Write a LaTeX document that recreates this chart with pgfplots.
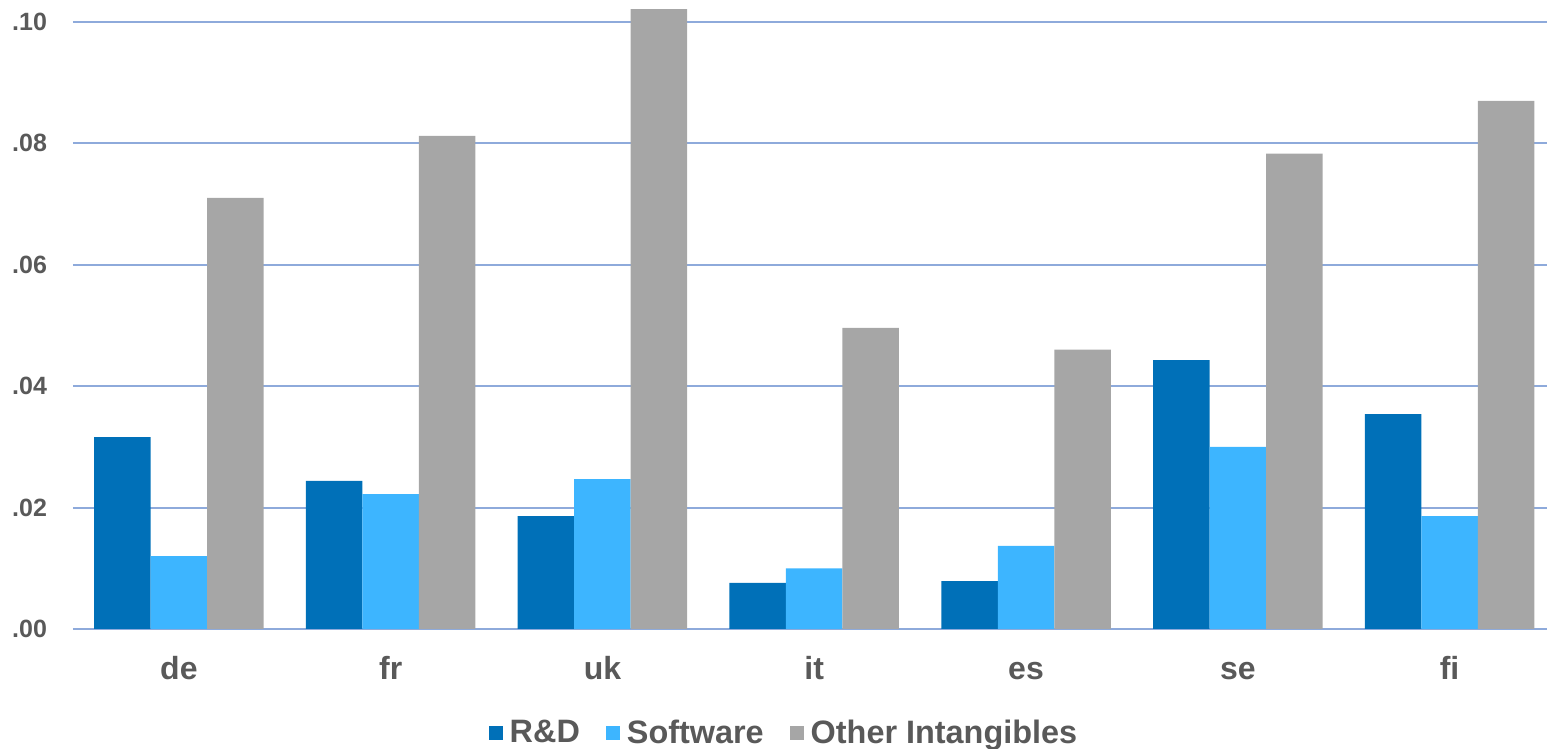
\documentclass[border=0pt]{standalone}
\usepackage{pgfplots}
\pgfplotsset{compat=1.18}
\usepackage{fontspec}
\setmainfont{Liberation Sans}

\definecolor{rdblue}{HTML}{0070B8}
\definecolor{swblue}{HTML}{3DB5FF}
\definecolor{othgray}{HTML}{A6A6A6}
\definecolor{gridblue}{HTML}{8EAADB}
\definecolor{txtgray}{HTML}{595959}

\begin{document}
\begin{tikzpicture}
\begin{axis}[
  scale only axis,
  width=737pt, height=314.5pt,
  ybar=0pt,
  bar width=28.25pt,
  xmin=-0.5, xmax=6.46,
  ymin=0, ymax=0.1036,
  xtick={0,1,2,3,4,5,6},
  xticklabels={de,fr,uk,it,es,se,fi},
  ytick={0,0.02,0.04,0.06,0.08,0.10},
  yticklabels={.00,.02,.04,.06,.08,.10},
  axis line style={draw=none},
  major tick style={draw=none},
  ymajorgrids,
  grid style={gridblue, line width=1pt},
  yticklabel style={font=\fontsize{12.5}{14}\selectfont\bfseries, text=txtgray, xshift=-9.5pt},
  xticklabel style={font=\fontsize{16}{19}\selectfont\bfseries, text=txtgray,
    text height=1.6ex, text depth=0.3ex, yshift=-9pt},
  legend columns=-1,
  legend style={draw=none, fill=none, at={(0.483,-0.165)}, anchor=center,
    font=\fontsize{16.2}{19}\selectfont\bfseries, text=txtgray,
    /tikz/every odd column/.append style={column sep=1.5pt},
    /tikz/every even column/.append style={column sep=11pt}},
  legend image code/.code={\fill[#1,draw=none] (0pt,-3.5pt) rectangle (7pt,3.5pt);},
]
\addplot[fill=rdblue, draw=none] coordinates {
  (0,0.0316) (1,0.0244) (2,0.0186) (3,0.0076) (4,0.0079) (5,0.0443) (6,0.0354)};
\addplot[fill=swblue, draw=none] coordinates {
  (0,0.0120) (1,0.0222) (2,0.0247) (3,0.0100) (4,0.0137) (5,0.0300) (6,0.0186)};
\addplot[fill=othgray, draw=none] coordinates {
  (0,0.0710) (1,0.0812) (2,0.1021) (3,0.0496) (4,0.0460) (5,0.0783) (6,0.0870)};
\legend{R\&D, Software, Other Intangibles}
\coordinate (bl) at (rel axis cs:0,0);
\coordinate (tr) at (rel axis cs:1,1);
\end{axis}
\pgfresetboundingbox
\path[use as bounding box] ([xshift=-36.5pt,yshift=-60pt]bl) rectangle ([xshift=1pt]tr);
\end{tikzpicture}
\end{document}
